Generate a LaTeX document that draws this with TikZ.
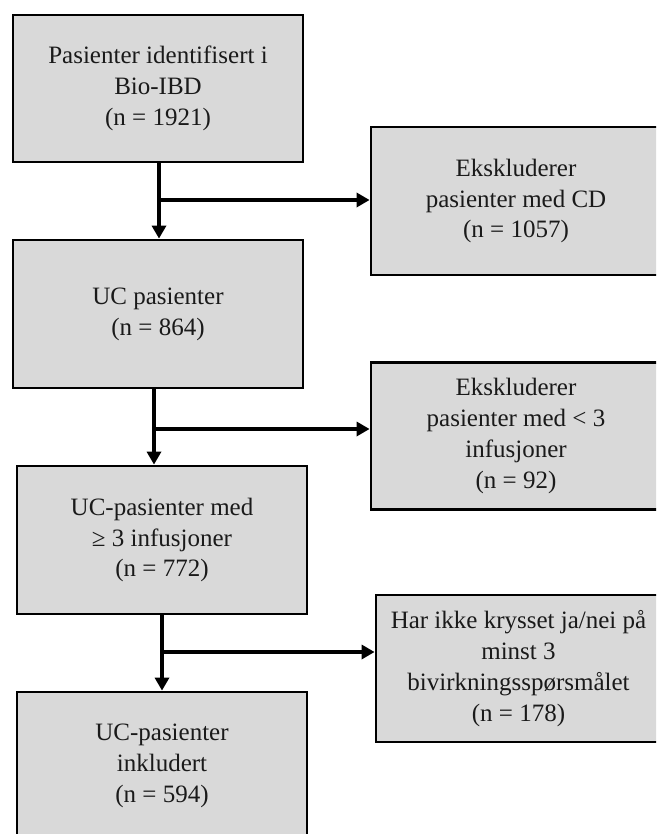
\documentclass[tikz,border=0pt]{standalone}
\usepackage{fontspec}
\setmainfont{Liberation Serif}
\usetikzlibrary{arrows.meta}
\definecolor{boxfill}{HTML}{D9D9D9}
\definecolor{txt}{HTML}{1A1A1A}
\tikzset{
  box/.style={draw=black, fill=boxfill, line width=2.8pt, inner sep=0pt,
    align=center, font=\fontsize{25}{30.8}\selectfont, text=txt},
  arr/.style={line width=4pt, -{Triangle[length=13pt,width=14pt]}}
}
\begin{document}
\begin{tikzpicture}[x=1pt,y=-1pt]
\useasboundingbox (0,0) rectangle (656,834);
\fill[white] (0,0) rectangle (656,834);
\clip (0,0) rectangle (656,834);
% left column
\node[box, minimum width=290pt, minimum height=147pt] (b1) at (158,88.5)
  {Pasienter identifisert i\\Bio-IBD\\(n = 1921)};
\node[box, minimum width=290pt, minimum height=148pt] (b2) at (158,314)
  {UC pasienter\\(n = 864)};
\node[box, minimum width=290pt, minimum height=148pt] (b3) at (162,540)
  {UC-pasienter med\\≥ 3 infusjoner\\(n = 772)};
\node[box, minimum width=290pt, minimum height=148pt] (b4) at (162,766)
  {UC-pasienter\\inkludert\\(n = 594)};
% right column
\node[box, minimum width=290pt, minimum height=148pt] (r1) at (516,201)
  {Ekskluderer\\pasienter med CD\\(n = 1057)};
\node[box, minimum width=290pt, minimum height=147pt] (r2) at (516,436)
  {Ekskluderer\\pasienter med < 3\\infusjoner\\(n = 92)};
\node[box, minimum width=285pt, minimum height=147pt] (r3) at (518.5,668.5)
  {Har ikke krysset ja/nei på\\minst 3\\bivirkningsspørsmålet\\(n = 178)};
% junction points
\coordinate (j1) at (159,200);
\coordinate (j2) at (154,429);
\coordinate (j3) at (162,652);
% connectors
\draw[arr] (j1 |- b1.south) -- (j1 |- b2.north);
\draw[arr] (j1) -- (j1 -| r1.west);
\draw[arr] (j2 |- b2.south) -- (j2 |- b3.north);
\draw[arr] (j2) -- (j2 -| r2.west);
\draw[arr] (j3 |- b3.south) -- (j3 |- b4.north);
\draw[arr] (j3) -- (j3 -| r3.west);
\end{tikzpicture}
\end{document}
